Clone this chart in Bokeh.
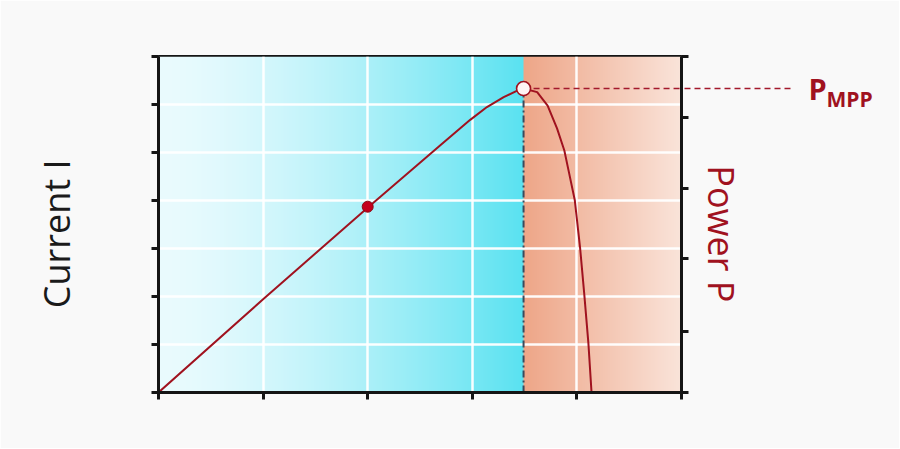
import numpy as np
from bokeh.plotting import figure
from bokeh.models import (Range1d, LinearAxis, FixedTicker, CustomJSTickFormatter, Grid)
from bokeh.embed import file_html
from bokeh.resources import INLINE

# ---- data ----
voltage = [0.0, 1.0, 2.01, 2.70, 2.98, 3.14, 3.30, 3.43, 3.49, 3.62, 3.72,
           3.81, 3.88, 3.92, 3.98, 4.03, 4.07, 4.11, 4.14]
power = [0.0, 1.31, 2.61, 3.48, 3.83, 4.01, 4.15, 4.24, 4.27, 4.22, 4.03,
         3.71, 3.40, 3.12, 2.70, 2.04, 1.39, 0.69, 0.0]
dot_v, dot_p = [2.0], [2.61]
mpp_v, mpp_p = [3.49], [4.27]
x_ticks = [0, 1, 2, 3, 4, 5]
i_ticks = [0, 1, 2, 3, 4, 5, 6, 7]
p_ticks = [0, 0.86, 1.88, 2.86, 3.86, 4.72]
sub_p = [4.13]

DARK_RED = "#a0121f"
AXIS = "#151515"
BG = "#f9f9f9"
NB = "\u00a0"

p = figure(frame_width=523, frame_height=336, x_range=Range1d(0, 5),
           y_range=Range1d(0, 7), output_backend="svg", toolbar_location=None,
           min_border_left=158, min_border_right=218, min_border_top=56,
           min_border_bottom=56, x_axis_type=None, y_axis_type=None)
p.extra_y_ranges = {"power": Range1d(0, 4.72)}
p.border_fill_color = BG
p.background_fill_color = BG
p.outline_line_color = AXIS
p.outline_line_width = 3

# ---- background gradient (styling) ----
ncol = 523
xs = np.linspace(0, 5, ncol)
split = mpp_v[0]
img = np.zeros((1, ncol), dtype=np.uint32)
view = img.view(dtype=np.uint8).reshape((1, ncol, 4))
for j, xv in enumerate(xs):
    if xv <= split:
        t = (xv / split) ** 1.5
        c0 = np.array([234, 251, 254]); c1 = np.array([90, 226, 241])
    else:
        t = (xv - split) / (5 - split)
        c0 = np.array([238, 166, 136]); c1 = np.array([250, 228, 218])
    c = c0 + (c1 - c0) * t
    view[0, j, 0:3] = c.astype(np.uint8)
    view[0, j, 3] = 255
bg = p.image_rgba(image=[img], x=0, y=0, dw=5, dh=7)
bg.level = "image"

# ---- grid ----
for dim, tk in ((0, x_ticks), (1, i_ticks)):
    g = Grid(dimension=dim, ticker=FixedTicker(ticks=tk), grid_line_color="white",
             grid_line_width=2.5, grid_line_alpha=0.95)
    p.add_layout(g)

# ---- axes ----
blank = CustomJSTickFormatter(code="return ''")
def style(ax):
    ax.axis_line_width = 3
    ax.axis_line_color = AXIS
    ax.major_tick_line_width = 3
    ax.major_tick_line_color = AXIS
    ax.major_tick_in = 0
    ax.major_tick_out = 7
    ax.minor_tick_line_color = None
    ax.formatter = blank
    ax.major_label_standoff = 0

xa = LinearAxis(ticker=FixedTicker(ticks=x_ticks)); style(xa)
ya = LinearAxis(ticker=FixedTicker(ticks=i_ticks)); style(ya)
ya.axis_label = "Current I" + NB + NB
ya.axis_label_text_font = "Open Sans"
ya.axis_label_text_font_size = "36px"
ya.axis_label_text_font_style = "normal"
ya.axis_label_text_color = "#1a1a1a"
ya.axis_label_standoff = 71

# right axis: black minor ticks = power ticks, one long dashed major tick at P_MPP
ra = LinearAxis(y_range_name="power",
                ticker=FixedTicker(ticks=mpp_p, minor_ticks=p_ticks))
ra.axis_line_width = 3
ra.axis_line_color = AXIS
ra.minor_tick_line_color = AXIS
ra.minor_tick_line_width = 3
ra.minor_tick_in = 0
ra.minor_tick_out = 7
ra.major_tick_in = 0
ra.major_tick_out = 109
ra.major_tick_line_color = "#a3192c"
ra.major_tick_line_width = 1.6
ra.major_tick_line_dash = "6 4"
ra.formatter = CustomJSTickFormatter(code="return 'P'")
ra.major_label_standoff = 18
ra.major_label_text_font = "Open Sans"
ra.major_label_text_font_style = "bold"
ra.major_label_text_font_size = "29px"
ra.major_label_text_color = DARK_RED
ra.axis_label = NB + NB + "Power P"
ra.axis_label_text_font = "Open Sans"
ra.axis_label_text_font_size = "36px"
ra.axis_label_text_font_style = "normal"
ra.axis_label_text_color = DARK_RED
ra.axis_label_standoff = -133

ma = LinearAxis(y_range_name="power", ticker=FixedTicker(ticks=sub_p))
ma.axis_line_color = None
ma.minor_tick_line_color = None
ma.major_tick_line_color = None
ma.major_tick_in = 0
ma.major_tick_out = 0
ma.formatter = CustomJSTickFormatter(code="return 'MPP'")
ma.major_label_standoff = 78
ma.major_label_text_font = "Open Sans"
ma.major_label_text_font_style = "bold"
ma.major_label_text_font_size = "21px"
ma.major_label_text_color = DARK_RED

p.add_layout(xa, "below")
p.add_layout(ya, "left")
p.add_layout(ra, "right")
p.add_layout(ma, "right")

# ---- MPP guide lines ----
p.segment(x0=mpp_v, y0=[0], x1=mpp_v, y1=mpp_p, y_range_name="power",
          line_color="#3b4a5c", line_width=2, line_dash="7 3 2 3")
p.segment(x0=mpp_v, y0=mpp_p, x1=[5.0], y1=mpp_p, y_range_name="power",
          line_color="#a3192c", line_width=1.6, line_dash="6 4")

# ---- power curve ----
p.line(voltage, power, y_range_name="power", line_color=DARK_RED, line_width=2)
p.scatter(dot_v, dot_p, y_range_name="power", size=11, fill_color="#c4001c",
          line_color="#8a0a14", line_width=1)
p.scatter(mpp_v, mpp_p, y_range_name="power", size=14, fill_color="#fff4f4",
          line_color=DARK_RED, line_width=1.6)

open("out.html", "w").write(file_html(p, INLINE))
